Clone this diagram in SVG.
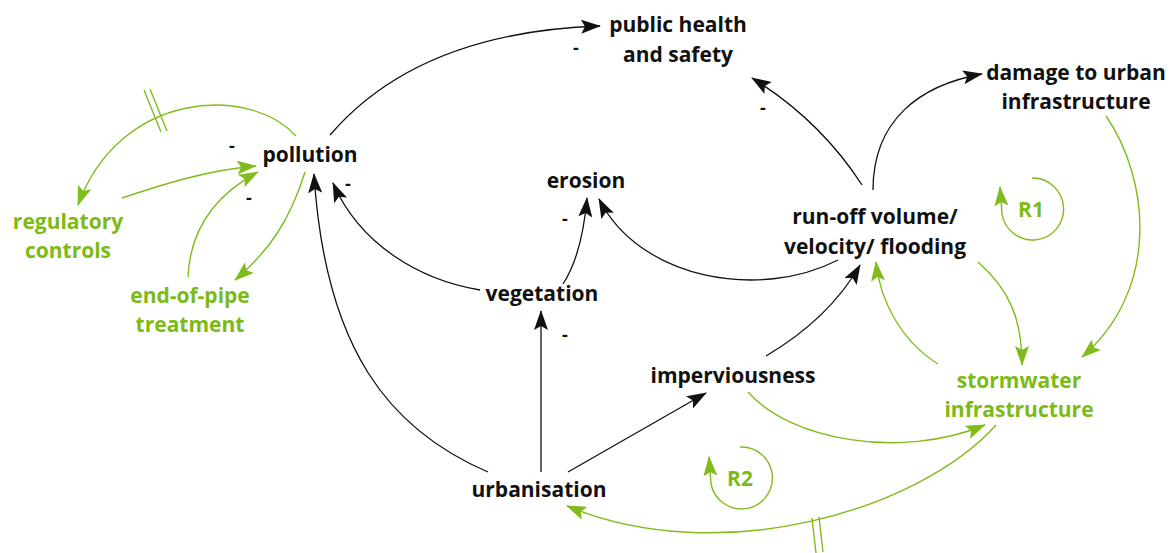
<svg xmlns="http://www.w3.org/2000/svg" width="1175" height="553" viewBox="0 0 1175 553">
<style>
text{font-family:"Open Sans","DejaVu Sans",sans-serif;font-weight:700;font-size:21px;text-anchor:middle}
.k{fill:#111}
.g{fill:#7cba14}
.m{font-size:18px}
.cb{fill:none;stroke:#111;stroke-width:1.3}
.cg{fill:none;stroke:#80bc1c;stroke-width:1.4}
</style>
<defs>
<marker id="ab" markerWidth="20" markerHeight="14" refX="19" refY="7" orient="auto" markerUnits="userSpaceOnUse"><path d="M0,0 L20,7 L0,14 L4,7 Z" fill="#111"/></marker>
<marker id="ag" markerWidth="20" markerHeight="14" refX="19" refY="7" orient="auto" markerUnits="userSpaceOnUse"><path d="M0,0 L20,7 L0,14 L4,7 Z" fill="#80bc1c"/></marker>
</defs>
<rect width="1175" height="553" fill="#fff"/>
<g id="connectors">
<path class="cb" d="M330,135 C390,65 480,30 600,26" marker-end="url(#ab)"/>
<path class="cb" d="M862,185 Q820,120 752,78" marker-end="url(#ab)"/>
<path class="cb" d="M873,190 C873,120 920,85 982,74" marker-end="url(#ab)"/>
<path class="cb" d="M838,260 C760,300 640,280 599,199" marker-end="url(#ab)"/>
<path class="cb" d="M563,284 Q582,255 587,198" marker-end="url(#ab)"/>
<path class="cb" d="M480,290 C420,280 360,245 333,183" marker-end="url(#ab)"/>
<path class="cb" d="M488,472 C390,430 325,350 314,174" marker-end="url(#ab)"/>
<path class="cb" d="M541,472 L541,311" marker-end="url(#ab)"/>
<path class="cb" d="M568,472 L706,393" marker-end="url(#ab)"/>
<path class="cb" d="M766,356 C810,330 840,300 860,265" marker-end="url(#ab)"/>
<path class="cg" d="M296,136 C250,85 120,90 78,205" marker-end="url(#ag)"/>
<path class="cg" d="M122,198 C170,182 210,170 256,166" marker-end="url(#ag)"/>
<path class="cg" d="M188,277 C190,230 215,195 258,172" marker-end="url(#ag)"/>
<path class="cg" d="M305,172 C290,220 270,250 235,280" marker-end="url(#ag)"/>
<path class="cg" d="M1106,116 C1150,180 1160,290 1082,357" marker-end="url(#ag)"/>
<path class="cg" d="M978,262 C1010,290 1022,320 1022,365" marker-end="url(#ag)"/>
<path class="cg" d="M938,364 C900,340 880,300 876,262" marker-end="url(#ag)"/>
<path class="cg" d="M748,392 C790,440 900,460 985,425" marker-end="url(#ag)"/>
<path class="cg" d="M996,425 C920,510 720,570 567,506" marker-end="url(#ag)"/>
<path class="cg" d="M144,90 L161,132 M150,89 L167,131"/>
<path class="cg" d="M812,518 L816,553 M819,517 L823,552"/>
<path class="cg" d="M1032,178 A31,31 0 1,1 1002,214 L1000,187" marker-end="url(#ag)"/>
<path class="cg" d="M740,447 A31,31 0 1,1 711,484 L709,457" marker-end="url(#ag)"/>
</g>
<g id="public-health"><text class="k" x="678" y="32">public health</text><text class="k" x="678" y="62">and safety</text></g>
<g id="damage"><text class="k" x="1076" y="80">damage to urban</text><text class="k" x="1076" y="109">infrastructure</text></g>
<g id="pollution"><text class="k" x="310" y="162">pollution</text></g>
<g id="erosion"><text class="k" x="586" y="188">erosion</text></g>
<g id="runoff"><text class="k" x="875" y="224">run-off volume/</text><text class="k" x="875" y="254">velocity/ flooding</text></g>
<g id="regulatory"><text class="g" x="68" y="229">regulatory</text><text class="g" x="68" y="258">controls</text></g>
<g id="endofpipe"><text class="g" x="190" y="303">end-of-pipe</text><text class="g" x="190" y="332">treatment</text></g>
<g id="vegetation"><text class="k" x="542" y="301">vegetation</text></g>
<g id="imperviousness"><text class="k" x="733" y="383">imperviousness</text></g>
<g id="stormwater"><text class="g" x="1019" y="388">stormwater</text><text class="g" x="1019" y="417">infrastructure</text></g>
<g id="urbanisation"><text class="k" x="539" y="497">urbanisation</text></g>
<g id="loops"><text class="g" x="1031" y="217">R1</text><text class="g" x="740" y="486">R2</text></g>
<g id="signs">
<text class="k m" x="576" y="54">-</text>
<text class="k m" x="232" y="152">-</text>
<text class="k m" x="249" y="204">-</text>
<text class="k m" x="348" y="190">-</text>
<text class="k m" x="565" y="225">-</text>
<text class="k m" x="565" y="341">-</text>
<text class="k m" x="763" y="114">-</text>
</g>
</svg>
